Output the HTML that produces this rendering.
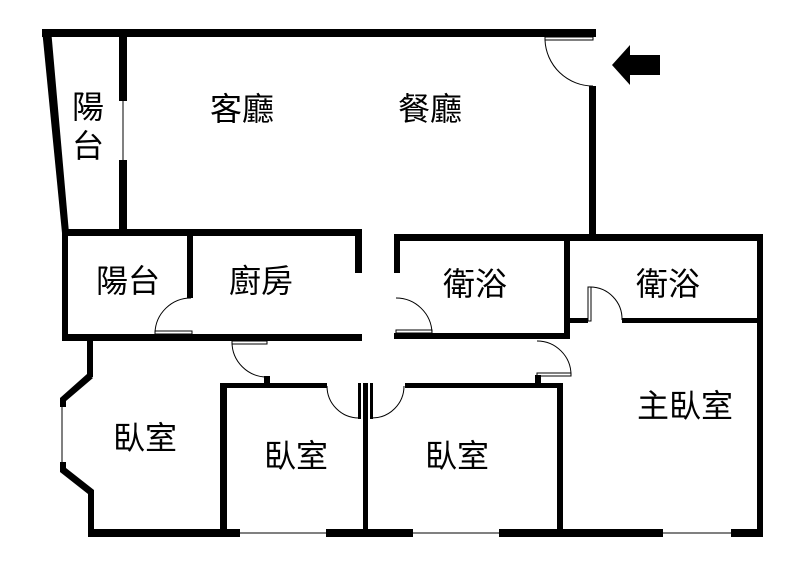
<!DOCTYPE html>
<html><head><meta charset="utf-8"><style>
html,body{margin:0;padding:0;background:#fff;}
svg{display:block;}
text{font-family:"Liberation Sans","Noto Sans CJK TC",sans-serif;font-size:32px;fill:#000;}
</style></head><body>
<svg width="800" height="565" viewBox="0 0 800 565" xmlns="http://www.w3.org/2000/svg">
<rect width="800" height="565" fill="#fff"/>
<g fill="#000">
<rect x="42" y="29" width="554" height="8"/>
<polygon points="42,29 51,29 69,233 62,233"/>
<rect x="119" y="33" width="8" height="68"/>
<rect x="119" y="160" width="8" height="74"/>
<rect x="62" y="229" width="300" height="7"/>
<rect x="355" y="229" width="7" height="44"/>
<rect x="187" y="229" width="6" height="69"/>
<rect x="62" y="229" width="6" height="112"/>
<rect x="62" y="334" width="300" height="7"/>
<rect x="589" y="86" width="7" height="152"/>
<rect x="394" y="234" width="369" height="7"/>
<rect x="394" y="234" width="6" height="39"/>
<rect x="564" y="234" width="6" height="105"/>
<rect x="394" y="333" width="176" height="6"/>
<rect x="568" y="318" width="20" height="5"/>
<rect x="622" y="318" width="140" height="5"/>
<rect x="757" y="234" width="6" height="303"/>
<rect x="88" y="529" width="152" height="8"/>
<rect x="326" y="529" width="87" height="8"/>
<rect x="499" y="529" width="164" height="8"/>
<rect x="731" y="529" width="32" height="8"/>
<rect x="87" y="337" width="6" height="40"/>
<polygon points="87,374 93,378 66,401 66,407 60,407 60,398"/>
<polygon points="60,462 66,462 66,468 94,490 88,494 60,472"/>
<rect x="88" y="490" width="6" height="44"/>
<rect x="220" y="383" width="7" height="151"/>
<rect x="220" y="383" width="107" height="5"/>
<rect x="264" y="376" width="6" height="10"/>
<rect x="363" y="383" width="5" height="151"/>
<rect x="358" y="383" width="3" height="36"/>
<rect x="370" y="383" width="3" height="36"/>
<rect x="405" y="383" width="158" height="5"/>
<rect x="557" y="386" width="6" height="148"/>
<rect x="535" y="375" width="6" height="10"/>
<polygon points="612,65 630,45 630,55 660,55 660,75 630,75 630,85"/>
</g>
<g fill="none" stroke="#000" stroke-width="1">
<line x1="123" y1="101" x2="123" y2="160"/>
<line x1="62" y1="407" x2="62" y2="462"/>
<line x1="240" y1="533" x2="326" y2="533"/>
<line x1="413" y1="533" x2="499" y2="533"/>
<line x1="663" y1="533" x2="731" y2="533"/>
<rect x="545" y="37" width="48" height="3"/>
<path d="M545,40 A48,48 0 0 0 593,86"/>
<rect x="155" y="331" width="37" height="3"/>
<path d="M155,333 A36,36 0 0 1 191,298"/>
<rect x="396" y="330" width="36" height="3"/>
<path d="M396,298 A36,36 0 0 1 432,333"/>
<rect x="588" y="287" width="3" height="34"/>
<path d="M590,287 A32,32 0 0 1 622,320"/>
<rect x="232" y="341" width="35" height="3"/>
<path d="M232,342 A35,35 0 0 0 267,377"/>
<path d="M327,386 A32,32 0 0 0 359,418"/>
<path d="M404,386 A32,32 0 0 1 372,418"/>
<rect x="537" y="373" width="34" height="3"/>
<path d="M537,341 A34,34 0 0 1 571,375"/>
</g>
<text x="72" y="118">陽</text>
<text x="72" y="157">台</text>
<text x="210" y="120">客廳</text>
<text x="398" y="120">餐廳</text>
<text x="96" y="292">陽台</text>
<text x="229" y="292">廚房</text>
<text x="443" y="295">衛浴</text>
<text x="636" y="295">衛浴</text>
<text x="113" y="449">臥室</text>
<text x="264" y="467">臥室</text>
<text x="425" y="467">臥室</text>
<text x="637" y="417">主臥室</text>
</svg>
</body></html>
